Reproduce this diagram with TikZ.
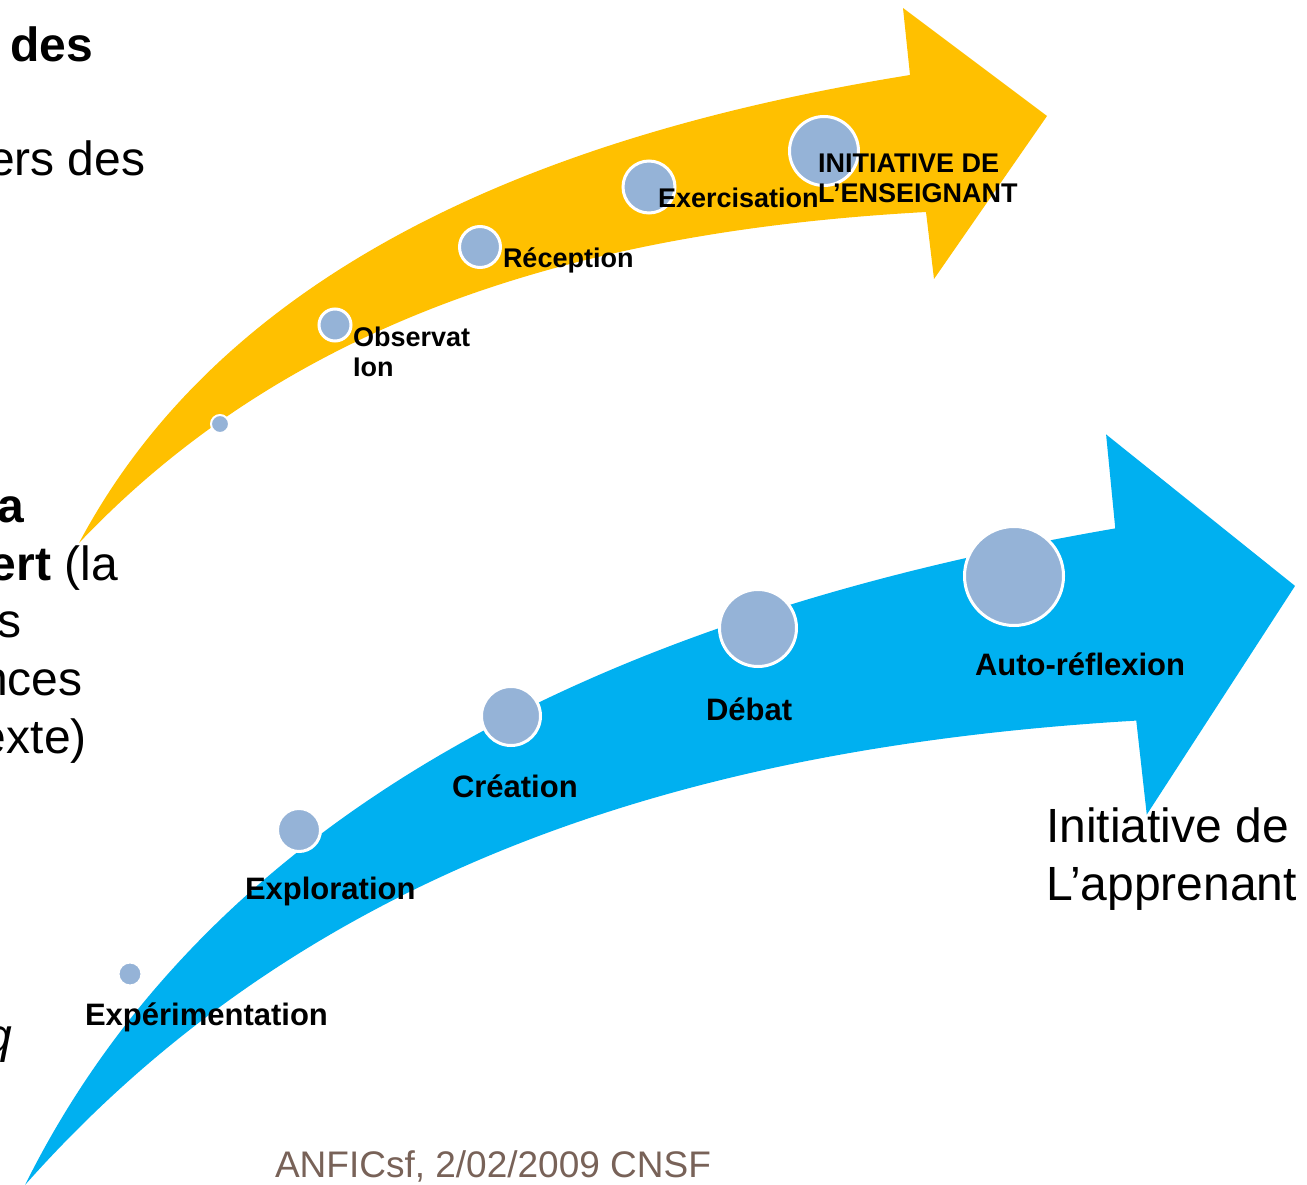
\documentclass[tikz,border=0pt]{standalone}
\usepackage{fontspec}
\setmainfont{Liberation Sans}
\usepackage{tikz}
\usetikzlibrary{positioning}
\definecolor{offy}{RGB}{255,192,0}
\definecolor{offb}{RGB}{0,176,240}
\definecolor{offlb}{RGB}{149,179,215}
\definecolor{offbr}{RGB}{120,98,88}
\newcommand{\cteach}{offy}
\newcommand{\clearn}{offb}
\newcommand{\cdisc}{offlb}
% curved block arrow, tail at the origin
\newcommand{\swoosh}[1]{
	\fill[#1] (0,0) .. controls (161,-303) and (521,-418) .. (831,-468)
		-- (824,-535) -- (968,-427) -- (855,-264) -- (847,-331)
		.. controls (521,-313) and (221,-233) .. (0,0) -- cycle;
}
\tikzset{
	every node/.style = { inner sep=0pt, outer sep=0pt },
	disc/.style = { circle, fill=\cdisc, draw=white, line width=3pt, minimum size=#1pt },
	lbl/.style = { font=\fontsize{27}{30}\selectfont\bfseries, anchor=base west, align=left },
	lblb/.style = { lbl, font=\fontsize{31}{36}\selectfont\bfseries },
	side/.style = { font=\fontsize{48}{57.6}\selectfont, anchor=base west, align=left },
}

\begin{document}
\begin{tikzpicture}[x=1pt,y=-1pt]
\useasboundingbox (0,0) rectangle (1307,1185);
\clip (0,0) rectangle (1307,1185);

\begin{scope}[shift={(79,543)}]
	\swoosh{\cteach}
\end{scope}
\begin{scope}[shift={(25,1185)},xscale=1.312,yscale=1.403]
	\swoosh{\clearn}
\end{scope}

% teacher side
\node (dst)  [disc=18,line width=2pt] at (220,424) {};
\node (dobs) [disc=32] at (335,325) {};
\node (drec) [disc=41] at (480,247) {};
\node (dexe) [disc=52] at (649,187) {};
\node (dini) [disc=69] at (824,151) {};

% (base of a two-line node is its last line)
\node (tobs) [lbl] at (353,376) {Observat\\Ion};
\node (trec) [lbl] at (503,268) {Réception};
\node (texe) [lbl] at (658,208) {Exercisation};
\node (tini) [lbl] at (818,203) {INITIATIVE DE\\L’ENSEIGNANT};

% learner side
\node (dexp) [disc=24] at (130,974) {};
\node (dexl) [disc=43] at (299,830) {};
\node (dcre) [disc=59] at (511,716) {};
\node (ddeb) [disc=77] at (758,628) {};
\node (daut) [disc=99] at (1014,576) {};

\node (texp) [lblb] at (85,1025) {Expérimentation};
\node (texl) [lblb] at (245,899) {Exploration};
\node (tcre) [lblb] at (452,797) {Création};
\node (tdeb) [lblb] at (706,720) {Débat};
\node (taut) [lblb] at (975,675) {Auto-réflexion};

\node (app)  [side] at (1046,900) {Initiative de\\L’apprenant};

% slide text running off the left edge
\node (l1) [side,font=\fontsize{48}{57.6}\selectfont\bfseries] at (10,62) {des};
\node (l2) [side] at (-12,176) {ers des};
\node (l3) [side,font=\fontsize{48}{57.6}\selectfont\bfseries] at (-2,522) {a};
\node (l4) [side] at (-10,580) {\textbf{ert} (la};
\node (l5) [side] at (-2,637) {s};
\node (l6) [side] at (-19,695) {nces};
\node (l7) [side] at (-20,753) {exte)};
\node (l8) [side,font=\fontsize{48}{57.6}\selectfont\itshape] at (-14,1052) {q};

\node (foot) [side,font=\fontsize{37}{44}\selectfont,text=offbr] at (275,1177) {ANFICsf, 2/02/2009 CNSF};

\end{tikzpicture}
\end{document}
